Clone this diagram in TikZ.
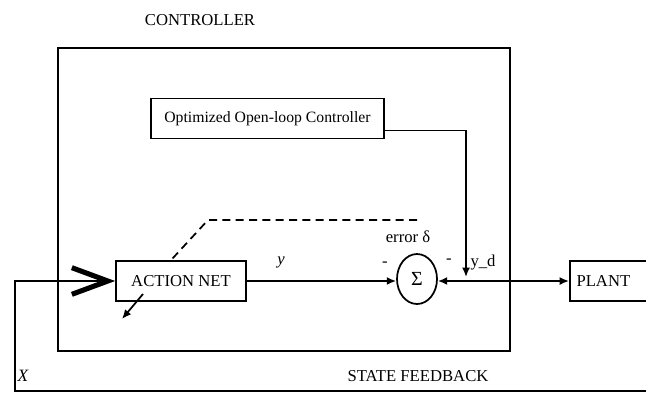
\documentclass[tikz,border=0pt]{standalone}
\usepackage{fontspec}
\setmainfont{Liberation Serif}
\usetikzlibrary{arrows.meta,shapes.geometric,positioning}
\tikzset{
  basic/.style  = {draw, line width=1.3pt, rectangle, inner sep=2pt,
                   font=\fontsize{12.5}{14}\selectfont},
  block/.style  = {basic, minimum height=30pt, align=center},
  plantbox/.style = {basic, minimum height=30pt, inner xsep=5pt,
                   text width=75pt, align=left},
  sum/.style    = {draw, ellipse, line width=1.3pt, minimum width=30pt,
                   minimum height=37.5pt, inner sep=0pt,
                   font=\fontsize{15}{16}\selectfont},
  txt/.style    = {inner sep=1pt, font=\fontsize{12.5}{14}\selectfont},
  wire/.style   = {line width=1.3pt},
  feedback/.style = {line width=2.2pt}
}

\begin{document}
\begin{tikzpicture}[x=0.75pt, y=-0.75pt, >={Latex[length=7pt,width=6pt]}]
\clip (0,0) rectangle (646,394);

% controller frame
\node[draw, line width=1.5pt, minimum width=339pt, minimum height=227pt,
      inner sep=0pt] (ctrl) at (284,199.5) {};
\node[txt] (ctitle) at (200,20) {CONTROLLER};

% blocks
\node[block, minimum width=174.75pt, font=\fontsize{11.8}{13}\selectfont]
  (opt) at (267.5,118.5) {Optimized Open-loop Controller};
\node[block, minimum width=97.5pt] (act) at (181,281) {ACTION NET};
\node[sum] (sig) at (417,279) {Σ};
\node[plantbox, anchor=west] (pl) at (569,281) {PLANT};

% labels
\node[txt] (lerr) at (408,237) {error δ};
\node[txt] (lm1) at (385,264) {-};
\node[txt] (lm2) at (449,261) {-};
\node[txt] (lyd) at (483,263) {y\_d};
\node[txt, font=\fontsize{12.5}{14}\selectfont\itshape] (ly) at (281,262) {y};
\node[txt, font=\fontsize{13}{14}\selectfont\itshape] (lx) at (23,376) {X};
\node[txt] (lsf) at (418,376) {STATE FEEDBACK};

% junctions
\coordinate (jn) at (466,281);
\coordinate (err) at (417,220);
\coordinate (bend) at (208,220);
\coordinate (tr1) at (143,294);
\coordinate (tr2) at (122,319);
\coordinate (fbr) at (700,391);
\coordinate (fbl) at (15,391);

% signals
\draw[wire,->] ([yshift=-9pt]opt.east) -| ([yshift=3pt]jn);
\draw[wire,->] (act.east) -- (act.east -| sig.west);
\draw[wire,->] (jn) -- (jn -| sig.east);
\draw[wire,->] (jn) -- (pl.west);

% training signal
\draw[wire, dashed, dash pattern=on 6pt off 4pt]
  (err) -- (bend) -- ([xshift=-7.5pt]act.north);
\draw[wire,->] (tr1) -- (tr2);

% state feedback
\draw[feedback, -{Straight Barb[length=27pt,width=20pt,line width=3.8pt]}]
  (fbr) -- (fbl) -- (fbl |- act.west) -- (act.west);
\end{tikzpicture}
\end{document}
